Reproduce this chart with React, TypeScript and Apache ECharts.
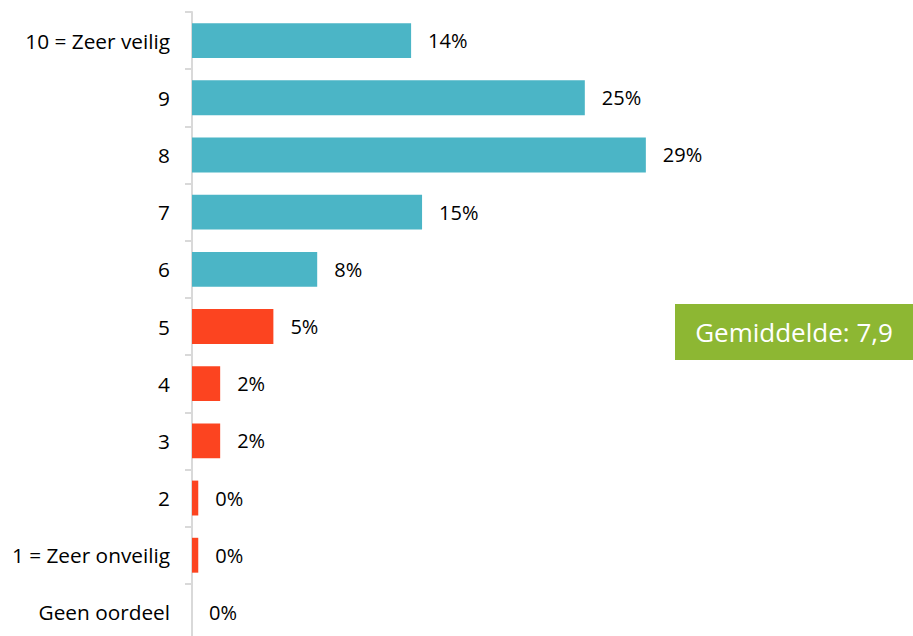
import React, { useEffect, useRef } from "react";
import * as echarts from "echarts";

const categories = [
  "10 = Zeer veilig",
  "9",
  "8",
  "7",
  "6",
  "5",
  "4",
  "3",
  "2",
  "1 = Zeer onveilig",
  "Geen oordeel",
];
const values = [14, 25.1, 29, 14.7, 8, 5.2, 1.8, 1.8, 0.4, 0.4, 0];
const colorGroup = ["safe", "safe", "safe", "safe", "safe", "unsafe", "unsafe", "unsafe", "unsafe", "unsafe", "none"];
const averageText = "Gemiddelde: 7,9";

const COLORS: Record<string, string> = { safe: "#4bb5c6", unsafe: "#fc4420", none: "#d0d0d0" };
const FONT = "'Open Sans', sans-serif";

export default function App() {
  const ref = useRef<HTMLDivElement>(null);
  useEffect(() => {
    if (!ref.current) return;
    const chart = echarts.init(ref.current, undefined, { renderer: "svg" });
    chart.setOption({
      animation: false,
      grid: { left: 192, top: 12, width: 626, height: 629, containLabel: false },
      xAxis: {
        type: "value",
        min: 0,
        max: 40,
        show: false,
      },
      yAxis: {
        type: "category",
        inverse: true,
        data: categories,
        axisLine: { show: true, lineStyle: { color: "#d9d9d9", width: 2 } },
        axisTick: { show: true, length: 7, lineStyle: { color: "#d9d9d9", width: 2 } },
        axisLabel: { margin: 22, color: "#000", fontSize: 20.8, fontFamily: FONT },
      },
      series: [
        {
          type: "bar",
          barCategoryGap: "39%",
          data: values.map((v, i) => ({
            value: v,
            itemStyle: { color: COLORS[colorGroup[i]] },
          })),
          label: {
            show: true,
            position: "right",
            distance: 17,
            color: "#000",
            fontSize: 20,
            fontFamily: FONT,
            formatter: (p: any) => Math.round(p.value) + "%",
          },
        },
      ],
      graphic: [
        {
          type: "group",
          left: 675,
          top: 304,
          children: [
            { type: "rect", shape: { x: 0, y: 0, width: 238, height: 56 }, style: { fill: "#8db733" } },
            {
              type: "text",
              x: 119,
              y: 28,
              style: {
                text: averageText,
                fill: "#fff",
                fontSize: 26,
                fontFamily: FONT,
                align: "center",
                verticalAlign: "middle",
              },
            },
          ],
        },
      ],
    });
    return () => chart.dispose();
  }, []);
  return (
    <div
      ref={ref}
      style={{ position: "absolute", left: 0, top: 0, width: 913, height: 660 }}
    />
  );
}
